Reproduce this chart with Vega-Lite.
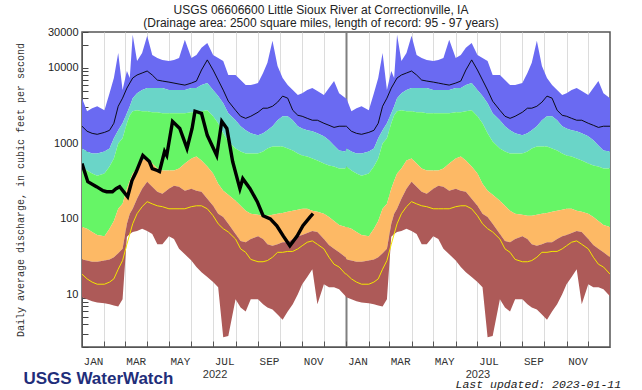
{
  "$schema": "https://vega.github.io/schema/vega-lite/v6.json",
  "autosize": "none",
  "width": 528,
  "height": 315,
  "padding": {"left": 82, "right": 32, "top": 32, "bottom": 43},
  "background": "white",
  "title": {
    "text": "USGS 06606600 Little Sioux River at Correctionville, IA",
    "subtitle": "(Drainage area: 2500 square miles, length of record: 95 - 97 years)",
    "anchor": "middle", "frame": "group", "dx": -25, "offset": -4,
    "font": "Liberation Sans", "fontSize": 12, "fontWeight": "normal", "color": "#222",
    "subtitleFont": "Liberation Sans", "subtitleFontSize": 12, "subtitleColor": "#222", "subtitlePadding": 1
  },
  "config": {"view": {"stroke": "#555", "strokeWidth": 1.5}},
  "datasets": {
    "bands": [
      {"d":"2022-01-01","mn":9.1,"p10":29,"p25":78,"p75":494,"p90":858,"mx":3980,"yl":18.5,"mk":1690},
      {"d":"2022-01-08","mn":8.6,"p10":28,"p25":74,"p75":437,"p90":782,"mx":2670,"yl":16,"mk":1450},
      {"d":"2022-01-15","mn":8.1,"p10":27,"p25":67,"p75":398,"p90":736,"mx":2930,"yl":14.5,"mk":1360},
      {"d":"2022-01-22","mn":7.8,"p10":27,"p25":61,"p75":374,"p90":736,"mx":3110,"yl":13.6,"mk":1320},
      {"d":"2022-02-01","mn":7.6,"p10":28,"p25":59,"p75":398,"p90":782,"mx":2750,"yl":13.6,"mk":1400},
      {"d":"2022-02-08","mn":7.4,"p10":29,"p25":74,"p75":494,"p90":858,"mx":4640,"yl":14.5,"mk":1490},
      {"d":"2022-02-14","mn":7.1,"p10":31,"p25":94,"p75":631,"p90":1170,"mx":7360,"yl":16,"mk":1850},
      {"d":"2022-02-20","mn":6.9,"p10":35,"p25":136,"p75":1000,"p90":1490,"mx":15800,"yl":21.5,"mk":3110},
      {"d":"2022-02-26","mn":8.6,"p10":40,"p25":158,"p75":1170,"p90":1850,"mx":5090,"yl":28,"mk":3980},
      {"d":"2022-03-04","mn":58,"p10":86,"p25":251,"p75":1850,"p90":2510,"mx":9120,"yl":46,"mk":5410},
      {"d":"2022-03-08","mn":63,"p10":117,"p25":321,"p75":2360,"p90":3110,"mx":7360,"yl":63,"mk":6310},
      {"d":"2022-03-12","mn":67,"p10":136,"p25":398,"p75":2670,"p90":3980,"mx":27500,"yl":86,"mk":7360},
      {"d":"2022-03-18","mn":69,"p10":185,"p25":464,"p75":2750,"p90":4640,"mx":12400,"yl":117,"mk":8070},
      {"d":"2022-03-25","mn":74,"p10":251,"p25":593,"p75":2670,"p90":5090,"mx":15800,"yl":145,"mk":8580},
      {"d":"2022-04-01","mn":69,"p10":311,"p25":631,"p75":2670,"p90":5410,"mx":26700,"yl":169,"mk":9120},
      {"d":"2022-04-08","mn":63,"p10":267,"p25":541,"p75":2590,"p90":5410,"mx":14900,"yl":158,"mk":8070},
      {"d":"2022-04-15","mn":46,"p10":229,"p25":464,"p75":2590,"p90":5410,"mx":13600,"yl":149,"mk":6920},
      {"d":"2022-04-22","mn":46,"p10":215,"p25":437,"p75":2510,"p90":5410,"mx":12800,"yl":145,"mk":6710},
      {"d":"2022-05-01","mn":59,"p10":251,"p25":437,"p75":2510,"p90":5090,"mx":12400,"yl":136,"mk":6500},
      {"d":"2022-05-08","mn":54,"p10":275,"p25":437,"p75":2510,"p90":5090,"mx":12800,"yl":136,"mk":6310},
      {"d":"2022-05-15","mn":40,"p10":267,"p25":464,"p75":2510,"p90":5090,"mx":13600,"yl":136,"mk":6120},
      {"d":"2022-05-23","mn":34,"p10":236,"p25":541,"p75":2510,"p90":5090,"mx":23600,"yl":136,"mk":5930},
      {"d":"2022-06-01","mn":28,"p10":251,"p25":631,"p75":2590,"p90":5410,"mx":13600,"yl":145,"mk":6310},
      {"d":"2022-06-08","mn":23,"p10":236,"p25":671,"p75":2590,"p90":5410,"mx":14900,"yl":149,"mk":6710},
      {"d":"2022-06-15","mn":19.6,"p10":229,"p25":593,"p75":2670,"p90":5930,"mx":18500,"yl":149,"mk":9400},
      {"d":"2022-06-23","mn":16.9,"p10":185,"p25":494,"p75":2750,"p90":6310,"mx":21500,"yl":136,"mk":12800},
      {"d":"2022-07-01","mn":14.5,"p10":149,"p25":398,"p75":2290,"p90":5090,"mx":14900,"yl":110,"mk":9400},
      {"d":"2022-07-08","mn":12.4,"p10":117,"p25":293,"p75":1850,"p90":4240,"mx":13600,"yl":86,"mk":6920},
      {"d":"2022-07-15","mn":2.7,"p10":106,"p25":236,"p75":1360,"p90":3410,"mx":12400,"yl":74,"mk":5090},
      {"d":"2022-07-22","mn":2.8,"p10":86,"p25":209,"p75":1060,"p90":2510,"mx":8070,"yl":67,"mk":3630},
      {"d":"2022-08-01","mn":8.6,"p10":63,"p25":174,"p75":858,"p90":2030,"mx":8070,"yl":54,"mk":2750},
      {"d":"2022-08-08","mn":6.7,"p10":51,"p25":149,"p75":782,"p90":1690,"mx":6920,"yl":40,"mk":2290},
      {"d":"2022-08-15","mn":5.9,"p10":49,"p25":128,"p75":736,"p90":1490,"mx":5930,"yl":36,"mk":2150},
      {"d":"2022-08-22","mn":8.6,"p10":54,"p25":117,"p75":736,"p90":1360,"mx":5930,"yl":29,"mk":2290},
      {"d":"2022-09-01","mn":8.6,"p10":59,"p25":113,"p75":736,"p90":1280,"mx":6310,"yl":27,"mk":2590},
      {"d":"2022-09-08","mn":7.4,"p10":54,"p25":110,"p75":782,"p90":1360,"mx":8580,"yl":27,"mk":2930},
      {"d":"2022-09-14","mn":6.7,"p10":46,"p25":110,"p75":858,"p90":1490,"mx":11700,"yl":28,"mk":2930},
      {"d":"2022-09-21","mn":6.3,"p10":44,"p25":113,"p75":912,"p90":1690,"mx":22900,"yl":31,"mk":3110},
      {"d":"2022-09-28","mn":5.4,"p10":46,"p25":117,"p75":912,"p90":2030,"mx":10600,"yl":36,"mk":3520},
      {"d":"2022-10-05","mn":4.6,"p10":49,"p25":120,"p75":912,"p90":2290,"mx":7360,"yl":36,"mk":4240},
      {"d":"2022-10-12","mn":5.9,"p10":49,"p25":124,"p75":858,"p90":2290,"mx":5930,"yl":37,"mk":3980},
      {"d":"2022-10-19","mn":7.4,"p10":54,"p25":128,"p75":807,"p90":2030,"mx":5090,"yl":37,"mk":2750},
      {"d":"2022-10-26","mn":10,"p10":59,"p25":132,"p75":736,"p90":1690,"mx":4370,"yl":40,"mk":2360},
      {"d":"2022-11-01","mn":13.6,"p10":61,"p25":136,"p75":692,"p90":1580,"mx":4640,"yl":44,"mk":2290},
      {"d":"2022-11-08","mn":16.9,"p10":65,"p25":136,"p75":671,"p90":1490,"mx":5090,"yl":49,"mk":2150},
      {"d":"2022-11-15","mn":21.5,"p10":69,"p25":128,"p75":631,"p90":1450,"mx":5410,"yl":51,"mk":2030},
      {"d":"2022-11-22","mn":7.4,"p10":67,"p25":124,"p75":593,"p90":1360,"mx":4940,"yl":46,"mk":2030},
      {"d":"2022-12-01","mn":13.6,"p10":54,"p25":117,"p75":541,"p90":1240,"mx":4370,"yl":40,"mk":1850},
      {"d":"2022-12-08","mn":12.4,"p10":45,"p25":106,"p75":509,"p90":1100,"mx":5410,"yl":31,"mk":1740},
      {"d":"2022-12-15","mn":12.4,"p10":40,"p25":94,"p75":494,"p90":940,"mx":6710,"yl":25,"mk":1630},
      {"d":"2022-12-22","mn":11.7,"p10":36,"p25":83,"p75":464,"p90":807,"mx":4640,"yl":23,"mk":1690},
      {"d":"2022-12-31","mn":9.4,"p10":31,"p25":78,"p75":464,"p90":782,"mx":3980,"yl":18.5,"mk":1690},
      {"d":"2023-01-01","mn":9.1,"p10":29,"p25":78,"p75":494,"p90":858,"mx":3980,"yl":18.5,"mk":1690},
      {"d":"2023-01-08","mn":8.6,"p10":28,"p25":74,"p75":437,"p90":782,"mx":2670,"yl":16,"mk":1450},
      {"d":"2023-01-15","mn":8.1,"p10":27,"p25":67,"p75":398,"p90":736,"mx":2930,"yl":14.5,"mk":1360},
      {"d":"2023-01-22","mn":7.8,"p10":27,"p25":61,"p75":374,"p90":736,"mx":3110,"yl":13.6,"mk":1320},
      {"d":"2023-02-01","mn":7.6,"p10":28,"p25":59,"p75":398,"p90":782,"mx":2750,"yl":13.6,"mk":1400},
      {"d":"2023-02-08","mn":7.4,"p10":29,"p25":74,"p75":494,"p90":858,"mx":4640,"yl":14.5,"mk":1490},
      {"d":"2023-02-14","mn":7.1,"p10":31,"p25":94,"p75":631,"p90":1170,"mx":7360,"yl":16,"mk":1850},
      {"d":"2023-02-20","mn":6.9,"p10":35,"p25":136,"p75":1000,"p90":1490,"mx":15800,"yl":21.5,"mk":3110},
      {"d":"2023-02-26","mn":8.6,"p10":40,"p25":158,"p75":1170,"p90":1850,"mx":5090,"yl":28,"mk":3980},
      {"d":"2023-03-04","mn":58,"p10":86,"p25":251,"p75":1850,"p90":2510,"mx":9120,"yl":46,"mk":5410},
      {"d":"2023-03-08","mn":63,"p10":117,"p25":321,"p75":2360,"p90":3110,"mx":7360,"yl":63,"mk":6310},
      {"d":"2023-03-12","mn":67,"p10":136,"p25":398,"p75":2670,"p90":3980,"mx":27500,"yl":86,"mk":7360},
      {"d":"2023-03-18","mn":69,"p10":185,"p25":464,"p75":2750,"p90":4640,"mx":12400,"yl":117,"mk":8070},
      {"d":"2023-03-25","mn":74,"p10":251,"p25":593,"p75":2670,"p90":5090,"mx":15800,"yl":145,"mk":8580},
      {"d":"2023-04-01","mn":69,"p10":311,"p25":631,"p75":2670,"p90":5410,"mx":26700,"yl":169,"mk":9120},
      {"d":"2023-04-08","mn":63,"p10":267,"p25":541,"p75":2590,"p90":5410,"mx":14900,"yl":158,"mk":8070},
      {"d":"2023-04-15","mn":46,"p10":229,"p25":464,"p75":2590,"p90":5410,"mx":13600,"yl":149,"mk":6920},
      {"d":"2023-04-22","mn":46,"p10":215,"p25":437,"p75":2510,"p90":5410,"mx":12800,"yl":145,"mk":6710},
      {"d":"2023-05-01","mn":59,"p10":251,"p25":437,"p75":2510,"p90":5090,"mx":12400,"yl":136,"mk":6500},
      {"d":"2023-05-08","mn":54,"p10":275,"p25":437,"p75":2510,"p90":5090,"mx":12800,"yl":136,"mk":6310},
      {"d":"2023-05-15","mn":40,"p10":267,"p25":464,"p75":2510,"p90":5090,"mx":13600,"yl":136,"mk":6120},
      {"d":"2023-05-23","mn":34,"p10":236,"p25":541,"p75":2510,"p90":5090,"mx":23600,"yl":136,"mk":5930},
      {"d":"2023-06-01","mn":28,"p10":251,"p25":631,"p75":2590,"p90":5410,"mx":13600,"yl":145,"mk":6310},
      {"d":"2023-06-08","mn":23,"p10":236,"p25":671,"p75":2590,"p90":5410,"mx":14900,"yl":149,"mk":6710},
      {"d":"2023-06-15","mn":19.6,"p10":229,"p25":593,"p75":2670,"p90":5930,"mx":18500,"yl":149,"mk":9400},
      {"d":"2023-06-23","mn":16.9,"p10":185,"p25":494,"p75":2750,"p90":6310,"mx":21500,"yl":136,"mk":12800},
      {"d":"2023-07-01","mn":14.5,"p10":149,"p25":398,"p75":2290,"p90":5090,"mx":14900,"yl":110,"mk":9400},
      {"d":"2023-07-08","mn":12.4,"p10":117,"p25":293,"p75":1850,"p90":4240,"mx":13600,"yl":86,"mk":6920},
      {"d":"2023-07-15","mn":2.7,"p10":106,"p25":236,"p75":1360,"p90":3410,"mx":12400,"yl":74,"mk":5090},
      {"d":"2023-07-22","mn":2.8,"p10":86,"p25":209,"p75":1060,"p90":2510,"mx":8070,"yl":67,"mk":3630},
      {"d":"2023-08-01","mn":8.6,"p10":63,"p25":174,"p75":858,"p90":2030,"mx":8070,"yl":54,"mk":2750},
      {"d":"2023-08-08","mn":6.7,"p10":51,"p25":149,"p75":782,"p90":1690,"mx":6920,"yl":40,"mk":2290},
      {"d":"2023-08-15","mn":5.9,"p10":49,"p25":128,"p75":736,"p90":1490,"mx":5930,"yl":36,"mk":2150},
      {"d":"2023-08-22","mn":8.6,"p10":54,"p25":117,"p75":736,"p90":1360,"mx":5930,"yl":29,"mk":2290},
      {"d":"2023-09-01","mn":8.6,"p10":59,"p25":113,"p75":736,"p90":1280,"mx":6310,"yl":27,"mk":2590},
      {"d":"2023-09-08","mn":7.4,"p10":54,"p25":110,"p75":782,"p90":1360,"mx":8580,"yl":27,"mk":2930},
      {"d":"2023-09-14","mn":6.7,"p10":46,"p25":110,"p75":858,"p90":1490,"mx":11700,"yl":28,"mk":2930},
      {"d":"2023-09-21","mn":6.3,"p10":44,"p25":113,"p75":912,"p90":1690,"mx":22900,"yl":31,"mk":3110},
      {"d":"2023-09-28","mn":5.4,"p10":46,"p25":117,"p75":912,"p90":2030,"mx":10600,"yl":36,"mk":3520},
      {"d":"2023-10-05","mn":4.6,"p10":49,"p25":120,"p75":912,"p90":2290,"mx":7360,"yl":36,"mk":4240},
      {"d":"2023-10-12","mn":5.9,"p10":49,"p25":124,"p75":858,"p90":2290,"mx":5930,"yl":37,"mk":3980},
      {"d":"2023-10-19","mn":7.4,"p10":54,"p25":128,"p75":807,"p90":2030,"mx":5090,"yl":37,"mk":2750},
      {"d":"2023-10-26","mn":10,"p10":59,"p25":132,"p75":736,"p90":1690,"mx":4370,"yl":40,"mk":2360},
      {"d":"2023-11-01","mn":13.6,"p10":61,"p25":136,"p75":692,"p90":1580,"mx":4640,"yl":44,"mk":2290},
      {"d":"2023-11-08","mn":16.9,"p10":65,"p25":136,"p75":671,"p90":1490,"mx":5090,"yl":49,"mk":2150},
      {"d":"2023-11-15","mn":21.5,"p10":69,"p25":128,"p75":631,"p90":1450,"mx":5410,"yl":51,"mk":2030},
      {"d":"2023-11-22","mn":7.4,"p10":67,"p25":124,"p75":593,"p90":1360,"mx":4940,"yl":46,"mk":2030},
      {"d":"2023-12-01","mn":13.6,"p10":54,"p25":117,"p75":541,"p90":1240,"mx":4370,"yl":40,"mk":1850},
      {"d":"2023-12-08","mn":12.4,"p10":45,"p25":106,"p75":509,"p90":1100,"mx":5410,"yl":31,"mk":1740},
      {"d":"2023-12-15","mn":12.4,"p10":40,"p25":94,"p75":494,"p90":940,"mx":6710,"yl":25,"mk":1630},
      {"d":"2023-12-22","mn":11.7,"p10":36,"p25":83,"p75":464,"p90":807,"mx":4640,"yl":23,"mk":1690},
      {"d":"2023-12-31","mn":9.4,"p10":31,"p25":78,"p75":464,"p90":782,"mx":3980,"yl":18.5,"mk":1690}
    ],
    "obs": [
      {"d":"2022-01-01","q":541},{"d":"2022-01-09","q":311},{"d":"2022-01-21","q":267},{"d":"2022-01-30","q":236},
      {"d":"2022-02-04","q":229},{"d":"2022-02-12","q":229},{"d":"2022-02-17","q":251},{"d":"2022-02-22","q":267},
      {"d":"2022-03-05","q":196},{"d":"2022-03-11","q":321},{"d":"2022-03-17","q":424},{"d":"2022-03-26","q":692},
      {"d":"2022-04-04","q":575},{"d":"2022-04-08","q":464},{"d":"2022-04-15","q":437},{"d":"2022-04-18","q":424},
      {"d":"2022-04-25","q":782},{"d":"2022-04-28","q":692},{"d":"2022-05-06","q":1960},{"d":"2022-05-16","q":1580},
      {"d":"2022-05-26","q":858},{"d":"2022-06-02","q":1580},{"d":"2022-06-06","q":2670},{"d":"2022-06-15","q":2510},
      {"d":"2022-06-23","q":1280},{"d":"2022-07-06","q":692},{"d":"2022-07-13","q":1960},{"d":"2022-07-20","q":1580},
      {"d":"2022-07-28","q":575},{"d":"2022-08-07","q":251},{"d":"2022-08-11","q":341},{"d":"2022-08-21","q":251},
      {"d":"2022-08-31","q":169},{"d":"2022-09-08","q":110},{"d":"2022-09-18","q":100},{"d":"2022-09-27","q":81},
      {"d":"2022-10-06","q":59},{"d":"2022-10-15","q":44},{"d":"2022-10-25","q":59},{"d":"2022-11-02","q":81},
      {"d":"2022-11-12","q":106},{"d":"2022-11-16","q":117}
    ]
  },
  "resolve": {"axis": {"x": "independent"}},
  "layer": [
    {
      "data": {"name": "bands"},
      "mark": {"type": "area", "color": "#6a6af2", "clip": true},
      "encoding": {
        "x": {"field": "d", "type": "temporal",
          "scale": {"type": "utc", "domain": [{"year": 2022, "month": 1, "date": 1, "utc": true}, {"year": 2023, "month": 12, "date": 31, "utc": true}]},
          "axis": {
            "orient": "bottom",
            "tickCount": {"interval": "month", "step": 1},
            "labelExpr": "utcmonth(datum.value) % 2 == 0 ? upper(utcFormat(datum.value, '%b')) : ''",
            "labelOffset": 11, "labelFlush": false, "labelOverlap": false,
            "labelFont": "Liberation Mono", "labelFontSize": 11, "labelColor": "#333",
            "labelPadding": 14, "tickSize": -6, "tickColor": "#555",
            "grid": true,
            "gridColor": {"condition": {"test": "utcyear(datum.value) == 2023 && utcmonth(datum.value) == 0", "value": "#808080"}, "value": "#dcdcdc"},
            "gridWidth": {"condition": {"test": "utcyear(datum.value) == 2023 && utcmonth(datum.value) == 0", "value": 2}, "value": 1},
            "domain": true, "domainColor": "#555",
            "title": "USGS WaterWatch", "titleX": -59, "titleY": 31, "titleAlign": "left", "titleBaseline": "middle",
            "titleFont": "Liberation Sans", "titleFontSize": 17, "titleFontWeight": "bold", "titleColor": "#1f2e7a"
          }
        },
        "y": {"field": "mx", "type": "quantitative",
          "scale": {"type": "log", "domain": [2, 30000], "nice": false},
          "axis": {
            "values": [2,3,4,5,6,7,8,9,10,20,30,40,50,60,70,80,90,100,200,300,400,500,600,700,800,900,1000,2000,3000,4000,5000,6000,7000,8000,9000,10000,20000,30000],
            "labelExpr": "indexof([10,100,1000,10000,30000], datum.value) >= 0 ? format(datum.value, 'd') : ''",
            "labelFont": "Liberation Sans", "labelFontSize": 11, "labelColor": "#222",
            "tickSize": -6, "labelPadding": 10, "tickColor": "#444", "grid": false, "domain": true, "domainColor": "#555",
            "title": "Daily average discharge, in cubic feet per second",
            "titleFont": "Liberation Mono", "titleFontSize": 10, "titleFontWeight": "normal", "titleColor": "#333",
            "titlePadding": 22
          }
        },
        "y2": {"field": "p90"}
      }
    },
    {
      "data": {"name": "bands"},
      "mark": {"type": "area", "color": "#6ad5c8", "clip": true},
      "encoding": {
        "x": {"field": "d", "type": "temporal", "scale": {"type": "utc"}, "axis": null},
        "y": {"field": "p90", "type": "quantitative", "scale": {"type": "log"}},
        "y2": {"field": "p75"}
      }
    },
    {
      "data": {"name": "bands"},
      "mark": {"type": "area", "color": "#66f566", "clip": true},
      "encoding": {
        "x": {"field": "d", "type": "temporal", "scale": {"type": "utc"}, "axis": null},
        "y": {"field": "p75", "type": "quantitative", "scale": {"type": "log"}},
        "y2": {"field": "p25"}
      }
    },
    {
      "data": {"name": "bands"},
      "mark": {"type": "area", "color": "#fdb965", "clip": true},
      "encoding": {
        "x": {"field": "d", "type": "temporal", "scale": {"type": "utc"}, "axis": null},
        "y": {"field": "p25", "type": "quantitative", "scale": {"type": "log"}},
        "y2": {"field": "p10"}
      }
    },
    {
      "data": {"name": "bands"},
      "mark": {"type": "area", "color": "#ad5a58", "clip": true},
      "encoding": {
        "x": {"field": "d", "type": "temporal", "scale": {"type": "utc"}, "axis": null},
        "y": {"field": "p10", "type": "quantitative", "scale": {"type": "log"}},
        "y2": {"field": "mn"}
      }
    },
    {
      "data": {"name": "bands"},
      "mark": {"type": "line", "color": "#f2e600", "strokeWidth": 1, "clip": true},
      "encoding": {
        "x": {"field": "d", "type": "temporal", "scale": {"type": "utc"}, "axis": null},
        "y": {"field": "yl", "type": "quantitative", "scale": {"type": "log"}}
      }
    },
    {
      "data": {"name": "bands"},
      "mark": {"type": "line", "color": "#000", "strokeWidth": 0.9, "clip": true},
      "encoding": {
        "x": {"field": "d", "type": "temporal", "scale": {"type": "utc"}, "axis": null},
        "y": {"field": "mk", "type": "quantitative", "scale": {"type": "log"}}
      }
    },
    {
      "data": {"name": "obs"},
      "mark": {"type": "line", "color": "#000", "strokeWidth": 3.4, "clip": true},
      "encoding": {
        "x": {"field": "d", "type": "temporal",
          "scale": {"type": "utc"},
          "axis": {
            "orient": "bottom",
            "values": [{"year": 2022, "month": 7, "date": 3, "utc": true}, {"year": 2023, "month": 7, "date": 1, "utc": true}],
            "labelExpr": "utcFormat(datum.value, '%Y')",
            "offset": 19, "ticks": false, "domain": false, "grid": false, "labelPadding": 2, "labelFlush": false,
            "labelFont": "Liberation Sans", "labelFontSize": 11, "labelColor": "#333",
            "title": "Last updated: 2023-01-11", "titleX": 373, "titleY": 18, "titleAlign": "left", "titleBaseline": "middle",
            "titleFont": "Liberation Mono", "titleFontStyle": "italic", "titleFontSize": 11.5, "titleFontWeight": "normal", "titleColor": "#222"
          }
        },
        "y": {"field": "q", "type": "quantitative", "scale": {"type": "log"}}
      }
    }
  ]
}
